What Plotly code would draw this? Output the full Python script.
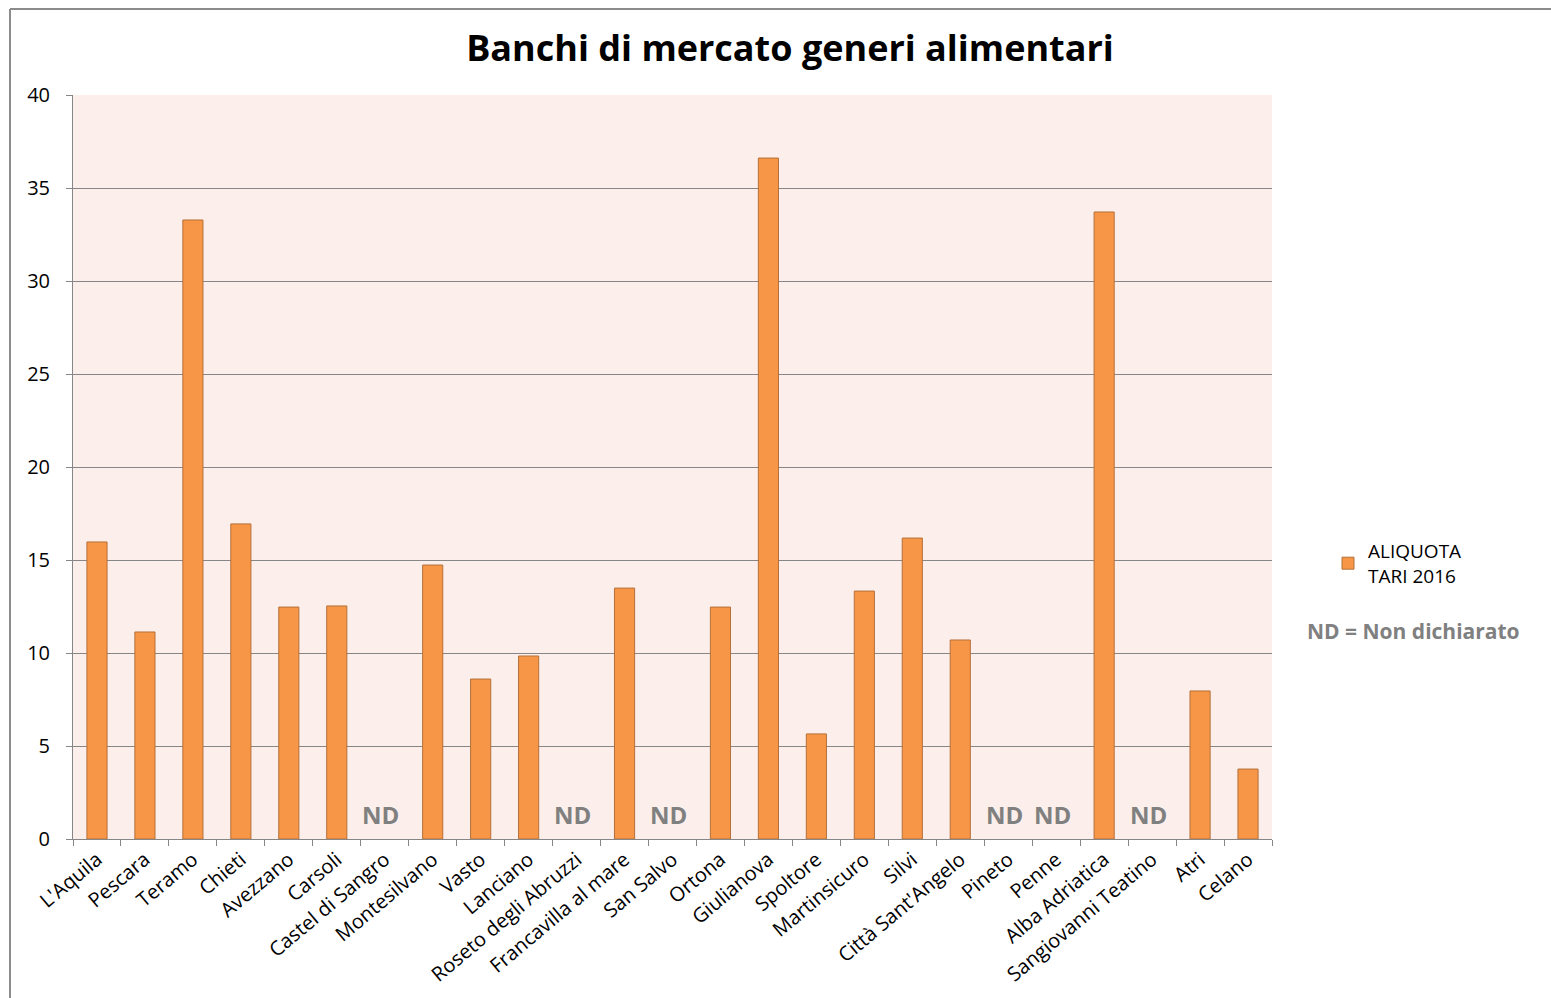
import plotly.graph_objects as go

comuni = ["L'Aquila", "Pescara", "Teramo", "Chieti", "Avezzano", "Carsoli",
          "Castel di Sangro", "Montesilvano", "Vasto", "Lanciano",
          "Roseto degli Abruzzi", "Francavilla al mare", "San Salvo", "Ortona",
          "Giulianova", "Spoltore", "Martinsicuro", "Silvi", "Città Sant'Angelo",
          "Pineto", "Penne", "Alba Adriatica", "Sangiovanni Teatino", "Atri", "Celano"]
# None = not declared (ND)
aliquota = [15.97, 11.13, 33.28, 16.94, 12.47, 12.53,
            None, 14.73, 8.60, 9.84,
            None, 13.49, None, 12.47,
            36.61, 5.65, 13.33, 16.18, 10.70,
            None, None, 33.71, None, 7.96, 3.76]
y_ticks = [0, 5, 10, 15, 20, 25, 30, 35, 40]

FONT = "Open Sans"

W, H = 1551, 998
ml, mr, mt, mb = 73, 279, 95, 159
PW, PH = W - ml - mr, H - mt - mb


def px_x(x):
    return (x - ml) / PW


def px_y(y):
    return (H - mb - y) / PH


fig = go.Figure()
fig.add_trace(go.Bar(
    x=comuni, y=aliquota, name="ALIQUOTA<br>TARI 2016",
    marker=dict(color="#F79646", line=dict(color="#B5703A", width=1)),
    width=0.42,
))

# "ND" markers for municipalities without a declared value
annotations = []
for c, v in zip(comuni, aliquota):
    if v is None:
        annotations.append(dict(
            x=c, y=0, xref="x", yref="y", yshift=25, xshift=-4, showarrow=False,
            text="<b>ND</b>", font=dict(family=FONT, size=24, color="#808080")))
annotations.append(dict(
    x=px_x(1413), y=px_y(631), xref="paper", yref="paper",
    xanchor="center", yanchor="middle", showarrow=False,
    text="<b>ND = Non dichiarato</b>",
    font=dict(family=FONT, size=21, color="#808080")))

fig.update_layout(
    width=W, height=H,
    margin=dict(l=ml, r=mr, t=mt, b=mb, pad=0),
    paper_bgcolor="white", plot_bgcolor="#FCEEEA",
    font=dict(family=FONT, size=20, color="#000000"),
    title=dict(text="<b>Banchi di mercato generi alimentari</b>",
               x=px_x(790), xref="paper", xanchor="center",
               y=1 - 48 / H, yanchor="middle",
               font=dict(family=FONT, size=36, color="#000000")),
    showlegend=True,
    legend=dict(x=px_x(1328), y=px_y(532),
                xanchor="left", yanchor="top", bgcolor="rgba(0,0,0,0)",
                font=dict(family=FONT, size=19, color="#000000"),
                itemwidth=30, tracegroupgap=0),
    annotations=annotations,
)
fig.update_xaxes(
    type="category", tickangle=-40, tickson="boundaries",
    ticks="outside", ticklen=6, tickcolor="#868686",
    showline=True, linecolor="#868686", linewidth=1,
    showgrid=False, tickfont=dict(family=FONT, size=20, color="#000000"),
)
fig.update_yaxes(
    range=[0, 40], tickvals=y_ticks, ticks="outside", ticklen=6,
    tickcolor="#868686", showline=True, linecolor="#868686", linewidth=1,
    showgrid=True, gridcolor="#868686", gridwidth=1, zeroline=False,
    tickfont=dict(family=FONT, size=20, color="#000000"), ticklabelstandoff=12,
)

# outer chart border (top and left edges)
fig.add_shape(type="line", xref="paper", yref="paper",
              x0=px_x(10), x1=px_x(W), y0=px_y(9), y1=px_y(9),
              line=dict(color="#8C8C8C", width=2))
fig.add_shape(type="line", xref="paper", yref="paper",
              x0=px_x(10), x1=px_x(10), y0=px_y(9), y1=px_y(H),
              line=dict(color="#8C8C8C", width=2))

fig.write_html("out.html")
